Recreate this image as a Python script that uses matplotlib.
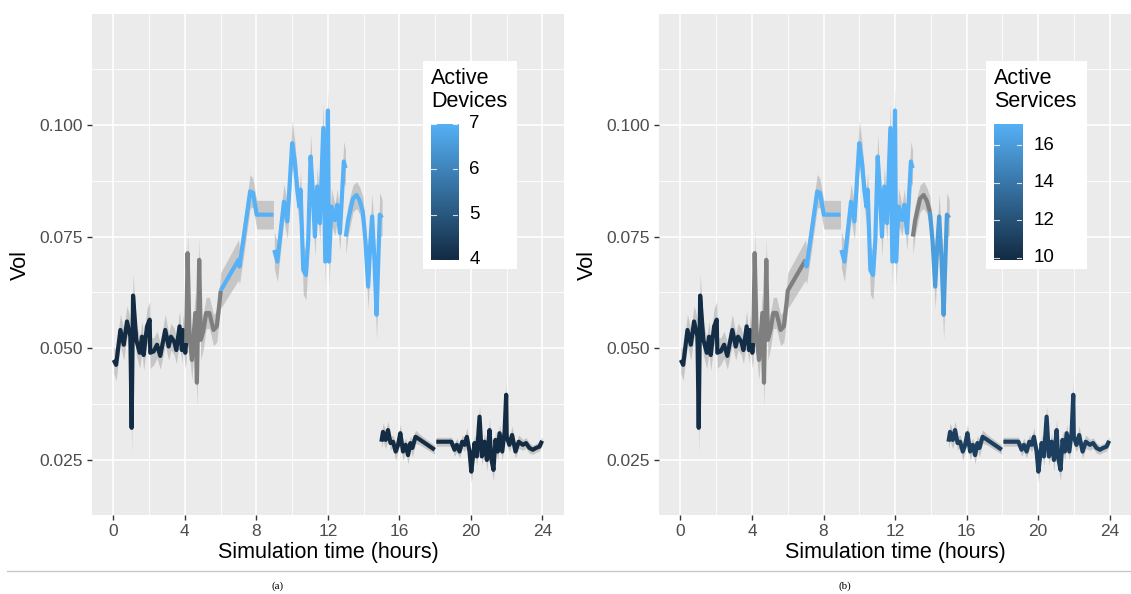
import numpy as np
import matplotlib
matplotlib.use('Agg')
import matplotlib.pyplot as plt
from matplotlib.colors import LinearSegmentedColormap, Normalize
from matplotlib.lines import Line2D

plt.rcParams['font.family'] = ['Liberation Sans', 'DejaVu Sans']

nan = float('nan')

# piece 1: 0h - 9h (dark -> grey -> blue)
hours_1 = [0.02, 0.15, 0.39, 0.58, 0.76, 0.95, 1.02, 1.10, 1.28, 1.47, 1.60, 1.69, 1.88, 2.03, 2.06,
           2.25, 2.44, 2.62, 2.90, 3.09, 3.22, 3.40, 3.52, 3.70, 3.83, 3.89, 4.02,
           4.07, 4.15, 4.26, 4.39, 4.58, 4.67, 4.80, 4.89, 5.04, 5.19, 5.37, 5.60, 5.78, 5.95,
           6.00, 7.00, 7.05, 7.27, 7.65, 7.80, 8.02, 8.95]
vol_1 = [0.0474, 0.0463, 0.0541, 0.0508, 0.0560, 0.0526, 0.0322, 0.0618, 0.0519, 0.0490, 0.0526, 0.0485, 0.0549, 0.0564, 0.0490,
         0.0493, 0.0508, 0.0483, 0.0541, 0.0504, 0.0526, 0.0515, 0.0496, 0.0549, 0.0496, 0.0541, 0.0490,
         0.0512, 0.0713, 0.0526, 0.0474, 0.0579, 0.0423, 0.0698, 0.0519, 0.0541, 0.0579, 0.0579, 0.0541, 0.0549, 0.0608,
         0.0629, 0.0698, 0.0683, 0.0743, 0.0851, 0.0848, 0.0799, 0.0799]
band_1 = [0.0030, 0.0035, 0.0035, 0.0035, 0.0035, 0.0040, 0.0060, 0.0050, 0.0035, 0.0035, 0.0035, 0.0035, 0.0040, 0.0040, 0.0035,
          0.0030, 0.0030, 0.0030, 0.0035, 0.0030, 0.0030, 0.0030, 0.0030, 0.0035, 0.0030, 0.0035, 0.0035,
          0.0040, 0.0050, 0.0045, 0.0045, 0.0045, 0.0055, 0.0050, 0.0045, 0.0040, 0.0035, 0.0035, 0.0035, 0.0035, 0.0035,
          0.0040, 0.0045, 0.0040, 0.0040, 0.0038, 0.0032, 0.0032, 0.0032]

# piece 2: 9h - 13h
hours_2 = [9.00, 9.17, 9.54, 9.73, 10.00, 10.16, 10.28, 10.40, 10.47, 10.62, 10.77, 10.90, 11.03, 11.14,
           11.27, 11.40, 11.55, 11.74, 11.85, 12.00, 12.06, 12.20, 12.39, 12.52, 12.67, 12.89, 12.98]
vol_2 = [0.0720, 0.0694, 0.0828, 0.0784, 0.0959, 0.0914, 0.0855, 0.0817, 0.0855, 0.0675, 0.0664, 0.0743, 0.0929, 0.0862,
         0.0750, 0.0862, 0.0780, 0.0993, 0.0694, 0.1032, 0.0694, 0.0817, 0.0787, 0.0821, 0.0758, 0.0918, 0.0903]
band_2 = [0.0040, 0.0045, 0.0040, 0.0040, 0.0050, 0.0045, 0.0040, 0.0040, 0.0040, 0.0055, 0.0055, 0.0045, 0.0050, 0.0040,
          0.0045, 0.0045, 0.0040, 0.0055, 0.0055, 0.0055, 0.0055, 0.0040, 0.0035, 0.0035, 0.0040, 0.0045, 0.0040]

# piece 3: 13h - 15h
hours_3 = [13.00, 13.12, 13.40, 13.60, 13.78, 13.95, 14.10, 14.25, 14.36, 14.47, 14.60, 14.72, 14.82, 14.90, 15.03]
vol_3 = [0.0750, 0.0785, 0.0835, 0.0843, 0.0830, 0.0805, 0.0740, 0.0638, 0.0730, 0.0795, 0.0700, 0.0575, 0.0700, 0.0799, 0.0792]
band_3 = [0.0040, 0.0035, 0.0030, 0.0030, 0.0030, 0.0035, 0.0040, 0.0050, 0.0045, 0.0050, 0.0050, 0.0055, 0.0050, 0.0050, 0.0040]

# piece 4: 15h - 18h
hours_4 = [14.99, 15.08, 15.23, 15.36, 15.50, 15.64, 15.79, 15.92, 16.05, 16.20, 16.35, 16.48, 16.61, 16.72, 16.90, 17.13, 17.97]
vol_4 = [0.0291, 0.0313, 0.0295, 0.0317, 0.0288, 0.0291, 0.0269, 0.0284, 0.0310, 0.0269, 0.0284, 0.0261, 0.0288, 0.0277, 0.0302, 0.0296, 0.0273]
band_4 = [0.0015, 0.0020, 0.0020, 0.0020, 0.0015, 0.0015, 0.0020, 0.0015, 0.0020, 0.0020, 0.0015, 0.0020, 0.0015, 0.0020, 0.0015, 0.0012, 0.0010]

# piece 5: 18h - 24h
hours_5 = [18.06, 18.90, 19.08, 19.21, 19.36, 19.51, 19.64, 19.77, 19.92, 20.02, 20.20, 20.33, 20.48, 20.61, 20.76,
           20.89, 21.04, 21.13, 21.26, 21.37, 21.50, 21.60, 21.75, 21.88, 21.97, 22.00, 22.15, 22.30, 22.49, 22.67,
           22.90, 23.08, 23.27, 23.46, 23.64, 23.83, 23.98]
vol_5 = [0.0291, 0.0291, 0.0273, 0.0284, 0.0269, 0.0291, 0.0284, 0.0302, 0.0269, 0.0224, 0.0288, 0.0258, 0.0347, 0.0258, 0.0291,
         0.0250, 0.0317, 0.0254, 0.0228, 0.0295, 0.0269, 0.0310, 0.0269, 0.0313, 0.0396, 0.0302, 0.0284, 0.0306, 0.0269, 0.0291,
         0.0284, 0.0288, 0.0277, 0.0273, 0.0277, 0.0280, 0.0293]
band_5 = [0.0010, 0.0010, 0.0015, 0.0015, 0.0015, 0.0015, 0.0015, 0.0020, 0.0015, 0.0025, 0.0020, 0.0020, 0.0025, 0.0020, 0.0020,
          0.0025, 0.0025, 0.0020, 0.0025, 0.0020, 0.0020, 0.0020, 0.0020, 0.0020, 0.0030, 0.0020, 0.0015, 0.0020, 0.0015, 0.0015,
          0.0012, 0.0012, 0.0012, 0.0010, 0.0010, 0.0010, 0.0010]

# colour level (step function of hour), nan = missing -> grey
devices_from = [0, 4.03, 6.0, 14.95]
devices_level = [4, nan, 7, 4]
services_from = [0, 4.03, 7.0, 13.0, 13.95, 14.95]
services_level = [10, nan, 17.13, nan, 16, 11]

pieces = [(hours_1, vol_1, band_1), (hours_2, vol_2, band_2), (hours_3, vol_3, band_3),
          (hours_4, vol_4, band_4), (hours_5, vol_5, band_5)]

cmap = LinearSegmentedColormap.from_list('gg', ['#132B43', '#56B1F7'])
NA_COL = '#7F7F7F'


def level_at(h, starts, levels):
    idx = np.searchsorted(starts, h, side='right') - 1
    return levels[idx]


def same(a, b):
    return (np.isnan(a) and np.isnan(b)) or a == b


def draw_panel(ax, starts, levels, vmin, vmax):
    norm = Normalize(vmin, vmax)
    for h, v, b in pieces:
        h = np.array(h); v = np.array(v); b = np.array(b)
        ax.fill_between(h, v - b, v + b, color='#999999', alpha=0.45, lw=0, zorder=2)
        c = [level_at(x, starts, levels) for x in h]
        s = 0
        for i in range(1, len(h)):
            if not same(c[i], c[s]) or i == len(h) - 1:
                end = i + 1
                col = NA_COL if np.isnan(c[s]) else cmap(norm(c[s]))
                ax.plot(h[s:end], v[s:end], color=col, lw=3.0, solid_joinstyle='round',
                        solid_capstyle='butt', zorder=3)
                s = i

    ax.set_facecolor('#EBEBEB')
    for sp in ax.spines.values():
        sp.set_visible(False)
    ax.set_xlim(-1.2, 25.2)
    ax.set_ylim(0.0127, 0.1248)
    ax.set_xticks([0, 4, 8, 12, 16, 20, 24])
    ax.set_xticks([2, 6, 10, 14, 18, 22], minor=True)
    ax.set_yticks([0.025, 0.050, 0.075, 0.100])
    ax.set_yticklabels(['0.025', '0.050', '0.075', '0.100'])
    ax.set_yticks([0.0375, 0.0625, 0.0875, 0.1125], minor=True)
    ax.grid(which='major', color='white', lw=1.2, zorder=0)
    ax.grid(which='minor', color='white', lw=0.6, zorder=0)
    ax.set_axisbelow(True)
    ax.tick_params(which='major', length=3.5, width=1, color='#333333', labelcolor='#4D4D4D',
                   labelsize=12.5, pad=3)
    ax.tick_params(which='minor', length=0)
    ax.set_xlabel('Simulation time (hours)', fontsize=15.5, labelpad=2)
    ax.set_ylabel('Vol', fontsize=15.5, labelpad=6)


def draw_legend(fig, box, bar, title, vmin, vmax, ticks):
    lg = fig.add_axes(box)
    lg.set_xticks([]); lg.set_yticks([])
    for sp in lg.spines.values():
        sp.set_visible(False)
    lg.set_facecolor('white')
    cax = fig.add_axes(bar)
    grad = np.linspace(vmin, vmax, 300).reshape(-1, 1)
    cax.imshow(grad, aspect='auto', cmap=cmap, origin='lower',
               extent=[0, 1, vmin, vmax], vmin=vmin, vmax=vmax)
    cax.set_xlim(0, 1); cax.set_ylim(vmin, vmax)
    cax.set_xticks([]); cax.set_yticks([])
    for sp in cax.spines.values():
        sp.set_visible(False)
    for t in ticks:
        cax.plot([0, 0.18], [t, t], color='white', lw=0.8, alpha=0.8)
        cax.plot([0.82, 1], [t, t], color='white', lw=0.8, alpha=0.8)
        cax.text(1.42, t, str(t), va='center', ha='left', fontsize=13.5, color='black',
                 transform=cax.transData, clip_on=False)
    fig.text(bar[0], box[1] + box[3] - 0.012, title, va='top', ha='left', fontsize=15.5,
             linespacing=1.12)


fig = plt.figure(figsize=(11.31, 5.94), dpi=100)
ax_a = fig.add_axes([0.0813, 0.1330, 0.4173, 0.8434])
ax_b = fig.add_axes([0.5827, 0.1330, 0.4173, 0.8434])

draw_panel(ax_a, devices_from, devices_level, 4, 7)
draw_panel(ax_b, services_from, services_level, 9.87, 17.13)

draw_legend(fig, [0.374, 0.5471, 0.0831, 0.3502], [0.3811, 0.5623, 0.0239, 0.229],
            'Active\nDevices', 4, 7, [4, 5, 6, 7])
draw_legend(fig, [0.8718, 0.5471, 0.0893, 0.3502], [0.8789, 0.5623, 0.0248, 0.229],
            'Active\nServices', 9.87, 17.13, [10, 12, 14, 16])

fig.add_artist(Line2D([0.006, 1.0], [0.0387, 0.0387], color='#c8c8c8', lw=1,
                      transform=fig.transFigure))
fig.text(0.2458, 0.0135, '(a)', ha='center', va='center', fontsize=8, family='Liberation Serif')
fig.text(0.747, 0.0135, '(b)', ha='center', va='center', fontsize=8, family='Liberation Serif')

fig.savefig('out.png', dpi=100, facecolor='white')
